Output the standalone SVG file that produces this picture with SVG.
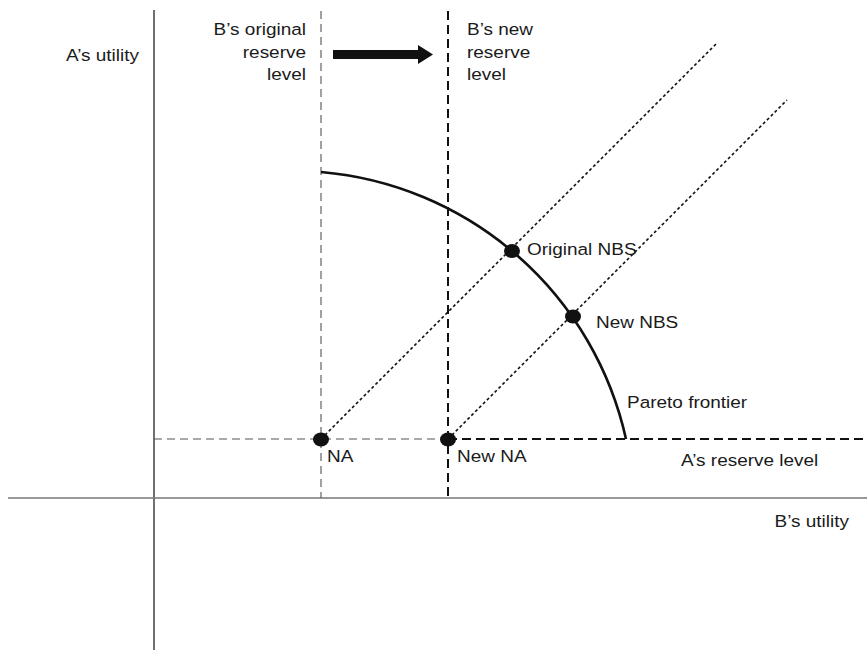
<svg xmlns="http://www.w3.org/2000/svg" width="867" height="652" viewBox="0 0 867 652">
<style>
text{font-family:"Liberation Sans",Arial,sans-serif;font-size:16.5px;fill:#1a1a1a}
.axis{stroke:#111;stroke-width:1.2;fill:none}
.haxis{stroke:#777;stroke-width:1.6;fill:none}
.thin{stroke:#555;stroke-width:1.1;stroke-dasharray:8 5;fill:none}
.thick{stroke:#111;stroke-width:2;stroke-dasharray:9 5;fill:none}
.dot{stroke:#111;stroke-width:1.6;stroke-dasharray:3 2.5;fill:none}
.frontier{stroke:#111;stroke-width:2.6;fill:none}
.pt{fill:#111}
</style>
<rect width="867" height="652" fill="#fff"/>
<g id="axes">
<line class="axis" x1="154" y1="10" x2="154" y2="650"/>
<line class="haxis" x1="8" y1="498" x2="867" y2="498"/>
</g>
<g id="connectors">
<line class="thin" x1="321" y1="11" x2="321" y2="498"/>
<line class="thick" x1="448" y1="11" x2="448" y2="498"/>
<line class="thin" x1="154" y1="439" x2="448" y2="439"/>
<line class="thick" x1="448" y1="439" x2="867" y2="439"/>
<line class="dot" x1="321" y1="439" x2="717" y2="43"/>
<line class="dot" x1="448" y1="439" x2="787" y2="100"/>
<path class="frontier" d="M321,172 A342.5,342.5 0 0,1 626,439"/>
<rect x="333" y="50" width="86" height="9" fill="#111"/>
<polygon points="418,45 433,54.5 418,64" fill="#111"/>
</g>
<g id="labels">
<text transform="translate(139,61) scale(1.15,1)" text-anchor="end">A’s utility</text>
<text transform="translate(306,35) scale(1.15,1)" text-anchor="end">B’s original</text>
<text transform="translate(306,57.5) scale(1.15,1)" text-anchor="end">reserve</text>
<text transform="translate(306,80) scale(1.15,1)" text-anchor="end">level</text>
<text transform="translate(467,35) scale(1.15,1)">B’s new</text>
<text transform="translate(467,57.5) scale(1.15,1)">reserve</text>
<text transform="translate(467,80) scale(1.15,1)">level</text>
<text transform="translate(849,527) scale(1.15,1)" text-anchor="end">B’s utility</text>
<text transform="translate(681,466) scale(1.15,1)">A’s reserve level</text>
<text transform="translate(627,408) scale(1.15,1)">Pareto frontier</text>
</g>
<g id="na">
<ellipse class="pt" cx="321" cy="439.5" rx="8" ry="7"/>
<text transform="translate(327,462) scale(1.15,1)">NA</text>
</g>
<g id="new-na">
<ellipse class="pt" cx="448" cy="439.5" rx="8" ry="7"/>
<text transform="translate(457,462) scale(1.15,1)">New NA</text>
</g>
<g id="original-nbs">
<ellipse class="pt" cx="512" cy="251" rx="8" ry="7"/>
<text transform="translate(527,255) scale(1.15,1)">Original NBS</text>
</g>
<g id="new-nbs">
<ellipse class="pt" cx="573" cy="316.5" rx="8" ry="7"/>
<text transform="translate(596,328) scale(1.15,1)">New NBS</text>
</g>
</svg>
